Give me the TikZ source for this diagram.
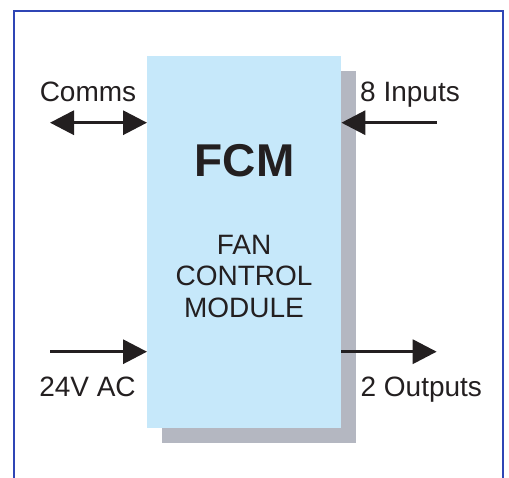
\documentclass[tikz,border=0pt]{standalone}
\usepackage{fontspec}
\setmainfont{Liberation Sans}
\usetikzlibrary{arrows.meta}
\definecolor{framecol}{HTML}{2F45B5}
\definecolor{boxcol}{HTML}{C6E8FA}
\definecolor{shadowcol}{HTML}{B4B7C1}
\definecolor{inkcol}{HTML}{231F20}
\tikzset{
  lbl/.style={inner sep=0pt, anchor=base, text=inkcol, font=\fontsize{28}{32}\selectfont},
  sig/.style={draw=inkcol, line width=3.3pt, -{Triangle[length=24pt,width=24pt]}},
  sigboth/.style={draw=inkcol, line width=3.3pt, {Triangle[length=24pt,width=24pt]}-{Triangle[length=24pt,width=24pt]}},
}
\begin{document}
\begin{tikzpicture}[x=1pt,y=-1pt]
\useasboundingbox (0,0) rectangle (509,477);
% frame
\draw[framecol, line width=2pt] (14,485) -- (14,10.7) -- (502.5,10.7) -- (502.5,485);
% shadow
\fill[shadowcol] (162,71) rectangle (356,442.7);
% module
\node[fill=boxcol, inner sep=0pt, minimum width=194pt, minimum height=371.7pt, anchor=north west] (fcm) at (147,56) {};
\node[lbl, font=\fontsize{46}{50}\selectfont\bfseries] (title) at (244.5,176) {FCM};
\node[inner sep=0pt, align=center, text=inkcol, font=\fontsize{28}{31.5}\selectfont] (desc) at (244,276) {FAN\\CONTROL\\MODULE};
% labels
\node[lbl] (comms) at (88,101.7) {Comms};
\node[lbl] (inputs) at (410,101.7) {8 Inputs};
\node[lbl] (power) at (87.5,396.7) {24V AC};
\node[lbl] (outputs) at (421.3,396.7) {2 Outputs};
% connector ends
\coordinate (commsEnd) at (50,122.7);
\coordinate (inEnd) at (436.7,122.7);
\coordinate (pwrEnd) at (50,351.7);
\coordinate (outEnd) at (436.7,351.7);
% connectors
\draw[sigboth] (commsEnd) -- (commsEnd -| fcm.west);
\draw[sig] (inEnd) -- (inEnd -| fcm.east);
\draw[sig] (pwrEnd) -- (pwrEnd -| fcm.west);
\draw[sig] (outEnd -| fcm.east) -- (outEnd);
\end{tikzpicture}
\end{document}
